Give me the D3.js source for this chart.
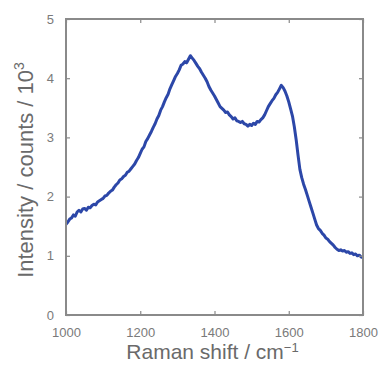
<!DOCTYPE html>
<html>
<head>
<meta charset="utf-8">
<script src="https://cdn.jsdelivr.net/npm/d3@7"></script>
<style>
  html, body { margin: 0; padding: 0; background: #fff; }
  svg { display: block; font-family: "Liberation Sans", Arial, sans-serif; }
</style>
</head>
<body>
<svg id="chart" width="383" height="365"></svg>
<script>
// Raman shift (cm^-1)
const shift = [
  1000,1005,1010,1015,1020,1025,1030,1035,1040,1045,1050,1055,1060,1065,1070,1075,1080,1085,1090,1095,
  1100,1105,1110,1115,1120,1125,1130,1135,1140,1145,1150,1155,1160,1165,1170,1175,1180,1185,1190,1195,
  1200,1205,1210,1215,1220,1225,1230,1235,1240,1245,1250,1255,1260,1265,1270,1275,1280,1285,1290,1295,
  1300,1305,1310,1315,1320,1325,1330,1335,1340,1345,1350,1355,1360,1365,1370,1375,1380,1385,1390,1395,
  1400,1405,1410,1415,1420,1425,1430,1435,1440,1445,1450,1455,1460,1465,1470,1475,1480,1485,1490,1495,
  1500,1505,1510,1515,1520,1525,1530,1535,1540,1545,1550,1555,1560,1565,1570,1575,1580,1585,1590,1595,
  1600,1605,1610,1615,1620,1625,1630,1635,1640,1645,1650,1655,1660,1665,1670,1675,1680,1685,1690,1695,
  1700,1705,1710,1715,1720,1725,1730,1735,1740,1745,1750,1755,1760,1765,1770,1775,1780,1785,1790,1795,
  1800
];

// Intensity (counts / 10^3)
const intensity = [
  1.53,1.57,1.62,1.64,1.69,1.67,1.74,1.77,1.74,1.79,1.80,1.77,1.82,1.81,1.85,1.87,1.86,1.91,1.93,1.95,
  1.97,2.01,2.02,2.06,2.09,2.11,2.16,2.20,2.23,2.28,2.30,2.34,2.36,2.41,2.43,2.47,2.51,2.55,2.61,2.66,
  2.73,2.80,2.84,2.93,2.98,3.04,3.10,3.17,3.23,3.31,3.37,3.46,3.52,3.60,3.67,3.73,3.82,3.89,3.96,4.03,
  4.08,4.14,4.22,4.24,4.28,4.26,4.32,4.38,4.34,4.30,4.25,4.20,4.16,4.10,4.05,4.00,3.94,3.86,3.80,3.75,
  3.70,3.64,3.58,3.52,3.49,3.46,3.42,3.43,3.38,3.35,3.31,3.33,3.28,3.27,3.25,3.27,3.23,3.22,3.19,3.22,
  3.20,3.24,3.22,3.27,3.26,3.30,3.33,3.38,3.45,3.52,3.57,3.62,3.66,3.72,3.76,3.82,3.88,3.84,3.78,3.70,
  3.60,3.48,3.36,3.18,2.96,2.70,2.46,2.32,2.21,2.12,2.02,1.92,1.82,1.72,1.62,1.52,1.46,1.43,1.38,1.35,
  1.30,1.28,1.24,1.21,1.18,1.14,1.11,1.09,1.10,1.08,1.09,1.06,1.07,1.04,1.05,1.02,1.03,1.00,1.01,0.98,
  0.97
];

const xTicks = [1000, 1200, 1400, 1600, 1800];
const yTicks = [0, 1, 2, 3, 4, 5];

const width = 383, height = 365;
const margin = { top: 19, right: 20, bottom: 50, left: 66 };
const iw = width - margin.left - margin.right;
const ih = height - margin.top - margin.bottom;

const svg = d3.select("#chart");
const g = svg.append("g").attr("transform", `translate(${margin.left},${margin.top})`);

const x = d3.scaleLinear().domain([1000, 1800]).range([0, iw]);
const y = d3.scaleLinear().domain([0, 5]).range([ih, 0]);

const axisColor = "#8a8a8a";
const labelColor = "#7a7a7a";
const titleColor = "#6a6a6a";

// Spectrum trace
const pts = shift.map((s, i) => [s, intensity[i]]);
g.append("path")
  .datum(pts)
  .attr("fill", "none")
  .attr("stroke", "#2c47a8")
  .attr("stroke-width", 3)
  .attr("stroke-linejoin", "round")
  .attr("d", d3.line().x(d => x(d[0])).y(d => y(d[1])));

// Axes with inward ticks on all four sides
function styleAxis(sel) {
  sel.select(".domain").remove();
  sel.selectAll(".tick line").attr("stroke", axisColor).attr("stroke-width", 1.2);
  sel.selectAll(".tick text")
    .attr("fill", labelColor)
    .style("font-size", "13px")
    .style("font-family", "'Liberation Sans', Arial, sans-serif");
}

g.append("g")
  .attr("transform", `translate(0,${ih})`)
  .call(d3.axisBottom(x).tickValues(xTicks).tickFormat(d3.format("d")).tickSizeInner(-4).tickSizeOuter(0).tickPadding(13))
  .call(styleAxis);

g.append("g")
  .call(d3.axisTop(x).tickValues(xTicks).tickFormat("").tickSizeInner(-4).tickSizeOuter(0))
  .call(styleAxis);

g.append("g")
  .call(d3.axisLeft(y).tickValues(yTicks).tickFormat(d3.format("d")).tickSizeInner(-4).tickSizeOuter(0).tickPadding(12))
  .call(styleAxis);

g.append("g")
  .attr("transform", `translate(${iw},0)`)
  .call(d3.axisRight(y).tickValues(yTicks).tickFormat("").tickSizeInner(-4).tickSizeOuter(0))
  .call(styleAxis);

// Plot frame
g.append("rect")
  .attr("x", 0).attr("y", 0)
  .attr("width", iw).attr("height", ih)
  .attr("fill", "none")
  .attr("stroke", axisColor)
  .attr("stroke-width", 2);

// Axis titles
const xt = svg.append("text")
  .attr("x", margin.left + iw / 2 - 2)
  .attr("y", 359)
  .attr("text-anchor", "middle")
  .attr("fill", titleColor)
  .style("font-size", "21px");
xt.append("tspan").text("Raman shift / cm");
xt.append("tspan").attr("dy", -7).style("font-size", "13px").text("\u22121");

const yt = svg.append("text")
  .attr("transform", `translate(33,${margin.top + ih / 2 + 3}) rotate(-90)`)
  .attr("text-anchor", "middle")
  .attr("fill", titleColor)
  .style("font-size", "22px");
yt.append("tspan").text("Intensity / counts / 10");
yt.append("tspan").attr("dy", -9).style("font-size", "14px").text("3");
</script>
</body>
</html>
